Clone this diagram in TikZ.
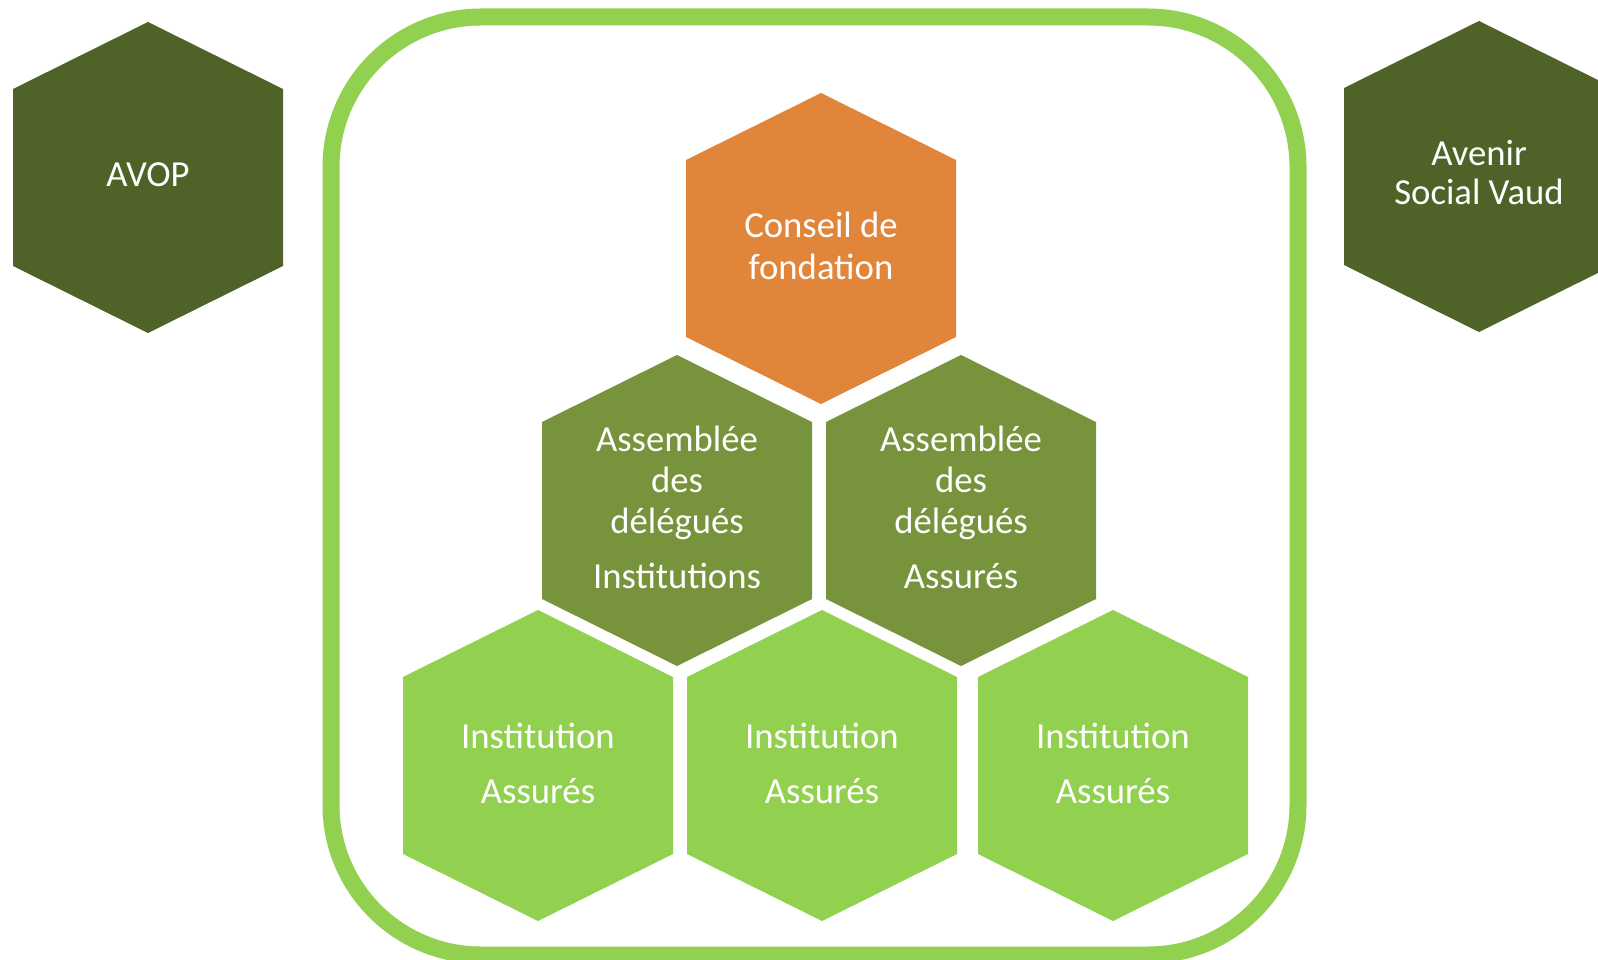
\documentclass[tikz,border=0pt]{standalone}
\usepackage{fontspec}
\setmainfont{Carlito}
\definecolor{hexdark}{HTML}{4F6228}
\definecolor{hexmid}{HTML}{77933C}
\definecolor{hexlight}{HTML}{92D050}
\definecolor{hexorange}{HTML}{E0853A}
\definecolor{framegreen}{HTML}{92D050}
\newcommand\hexshape[3]{%
  \fill[#3] (#1) ++(0,-155) -- ++(135,67) -- ++(0,177) -- ++(-135,67) -- ++(-135,-67) -- ++(0,-177) -- cycle;}
\begin{document}
\begin{tikzpicture}[x=1pt,y=-1pt,
  lbl/.style={text=white, inner sep=0pt, anchor=base, font=\fontsize{36.7}{42}\selectfont},
  frame/.style={line width=17pt, draw=framegreen, rounded corners=150pt}]
\useasboundingbox (0,0) rectangle (1598,960);
% frame
\draw[frame] (331,17) rectangle (1298,955);
% hexagon centres
\coordinate (avop) at (148,177);
\coordinate (asv) at (1479,176);
\coordinate (cf) at (821,248);
\coordinate (adi) at (677,510);
\coordinate (ada) at (961,510);
\coordinate (ia) at (538,765);
\coordinate (ib) at (822,765);
\coordinate (ic) at (1113,765);
\hexshape{avop}{}{hexdark}
\hexshape{asv}{}{hexdark}
\hexshape{cf}{}{hexorange}
\hexshape{adi}{}{hexmid}
\hexshape{ada}{}{hexmid}
\hexshape{ia}{}{hexlight}
\hexshape{ib}{}{hexlight}
\hexshape{ic}{}{hexlight}
% labels
\node[lbl] (avopt) at (148,187) {AVOP};
\node[lbl] (asv1) at (1479,166) {Avenir};
\node[lbl] (asv2) at (1479,205) {Social Vaud};
\node[lbl] (cf1) at (821,237) {Conseil de};
\node[lbl] (cf2) at (821,279) {fondation};
\node[lbl] (adi1) at (677,451) {Assemblée};
\node[lbl] (adi2) at (677,492) {des};
\node[lbl] (adi3) at (677,533) {délégués};
\node[lbl] (adi4) at (677,588) {Institutions};
\node[lbl] (ada1) at (961,451) {Assemblée};
\node[lbl] (ada2) at (961,492) {des};
\node[lbl] (ada3) at (961,533) {délégués};
\node[lbl] (ada4) at (961,588) {Assurés};
\node[lbl] (ia1) at (538,748) {Institution};
\node[lbl] (ia2) at (538,803) {Assurés};
\node[lbl] (ib1) at (822,748) {Institution};
\node[lbl] (ib2) at (822,803) {Assurés};
\node[lbl] (ic1) at (1113,748) {Institution};
\node[lbl] (ic2) at (1113,803) {Assurés};
\end{tikzpicture}
\end{document}
